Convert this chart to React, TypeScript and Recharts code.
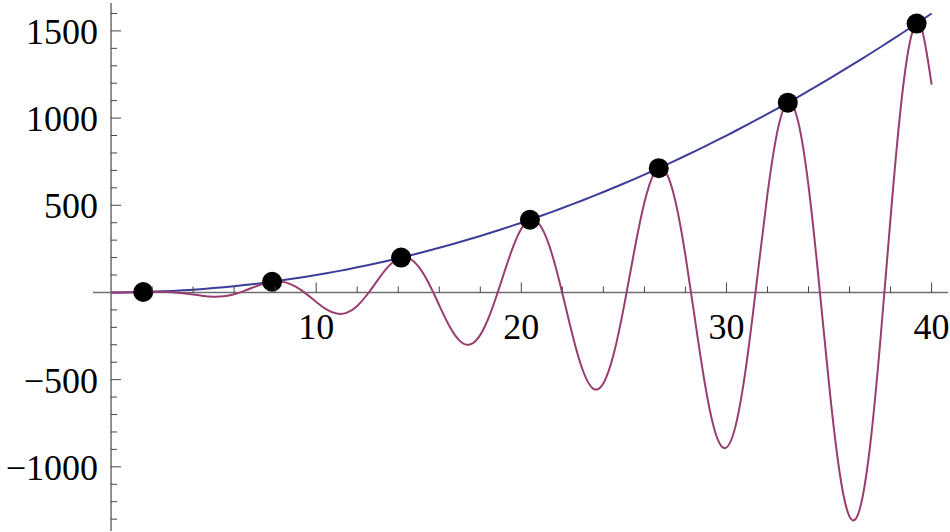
import { ComposedChart, Line, Scatter, XAxis, YAxis, ReferenceLine } from 'recharts';

// sample positions along x
const xValues = [
  0, 0.5, 1, 1.5, 2, 2.5, 3, 3.5, 4, 4.5, 5, 5.5, 6, 6.5, 7, 7.5, 8, 8.5, 9, 9.5,
  10, 10.5, 11, 11.5, 12, 12.5, 13, 13.5, 14, 14.5, 15, 15.5, 16, 16.5, 17, 17.5, 18, 18.5, 19, 19.5,
  20, 20.5, 21, 21.5, 22, 22.5, 23, 23.5, 24, 24.5, 25, 25.5, 26, 26.5, 27, 27.5, 28, 28.5, 29, 29.5,
  30, 30.5, 31, 31.5, 32, 32.5, 33, 33.5, 34, 34.5, 35, 35.5, 36, 36.5, 37, 37.5, 38, 38.5, 39, 39.5,
  40,
];

// blue envelope curve
const envelope = [
  0, 0.25, 1, 2.25, 4, 6.25, 9, 12.25, 16, 20.25, 25, 30.25, 36, 42.25, 49, 56.25, 64, 72.25, 81, 90.25,
  100, 110.25, 121, 132.25, 144, 156.25, 169, 182.25, 196, 210.25, 225, 240.25, 256, 272.25, 289, 306.25, 324, 342.25, 361, 380.25,
  400, 420.25, 441, 462.25, 484, 506.25, 529, 552.25, 576, 600.25, 625, 650.25, 676, 702.25, 729, 756.25, 784, 812.25, 841, 870.25,
  900, 930.25, 961, 992.25, 1024, 1056.25, 1089, 1122.25, 1156, 1190.25, 1225, 1260.25, 1296, 1332.25, 1369, 1406.25, 1444, 1482.25, 1521, 1560.25,
  1600,
];

// purple oscillating curve
const wave = [
  0, 0.12, 0.84, 2.24, 3.64, 3.74, 1.27, -4.3, -12.11, -19.79, -23.97, -21.34, -10.06, 9.09, 32.19, 52.76, 63.32, 57.69, 33.38, -6.78,
  -54.4, -96.99, -121, -115.78, -77.27, -10.38, 71.0, 146.5, 194.2, 196.6, 146.3, 49.6, -73.7, -193.8, -277.8, -298.8, -243.3, -117.2, 54.1, 230.2,
  365.2, 418.9, 369.0, 218.0, -4.3, -246.6, -447.6, -551.2, -521.6, -355.0, -82.8, 233.5, 515.5, 687.8, 697.2, 528.8, 212.4, -181.8, -558.2, -818.9,
  -889.2, -737.8, -388.2, 83.3, 564.7, 933.6, 1088.9, 977.7, 611.5, 68.4, -524.5, -1019.7, -1285.4, -1241.3, -881.1, -278.2, 428.0, 1064.3, 1466.0, 1519.1,
  1192.2,
];

// touching points
const peakX = [1.57, 7.85, 14.14, 20.42, 26.7, 32.99, 39.27];
const peakY = [2.5, 61.7, 199.9, 416.9, 713.0, 1088.3, 1542.1];

const xTicks = [2, 4, 6, 8, 10, 12, 14, 16, 18, 20, 22, 24, 26, 28, 30, 32, 34, 36, 38, 40];
const yTicks = [
  -1300, -1200, -1100, -1000, -900, -800, -700, -600, -500, -400, -300, -200, -100,
  100, 200, 300, 400, 500, 600, 700, 800, 900, 1000, 1100, 1200, 1300, 1400, 1500, 1600,
];

const curveData = xValues.map((x, i) => ({ x, envelope: envelope[i], wave: wave[i] }));
const peakData = peakX.map((x, i) => ({ x, y: peakY[i] }));

const W = 950;
const H = 532;
const AXIS_SIZE = 1;
const margin = { top: 3, right: 2, bottom: 0, left: 92 };
const xDomain = [-0.88, 40.8];
const yDomain = [-1368, 1660];

// plot box, then where the axes cross (data origin) in pixels
const plotLeft = margin.left + AXIS_SIZE;
const plotW = W - plotLeft - margin.right;
const plotH = H - margin.top - margin.bottom - AXIS_SIZE;
const zeroY = margin.top + (yDomain[1] / (yDomain[1] - yDomain[0])) * plotH;
const zeroX = plotLeft + (-xDomain[0] / (xDomain[1] - xDomain[0])) * plotW;

const font = '"Liberation Serif", "Times New Roman", serif';

const fmt = (v: number) => (v < 0 ? '\u2212' + Math.abs(v) : String(v));

const XTick = (props: any) => {
  const { x, payload } = props;
  const major = payload.value % 10 === 0;
  return (
    <g>
      <line x1={x} x2={x} y1={zeroY} y2={zeroY - (major ? 10 : 6)} stroke="#444" strokeWidth={1} />
      {major && (
        <text x={x} y={zeroY + 47} textAnchor="middle" fontSize={36} fontFamily={font} fill="#000">
          {fmt(payload.value)}
        </text>
      )}
    </g>
  );
};

const YTick = (props: any) => {
  const { y, payload } = props;
  const major = payload.value % 500 === 0;
  return (
    <g>
      <line x1={zeroX} x2={zeroX + (major ? 10 : 6)} y1={y} y2={y} stroke="#444" strokeWidth={1} />
      {major && (
        <text x={98} y={y + 13} textAnchor="end" fontSize={36} fontFamily={font} fill="#000">
          {fmt(payload.value)}
        </text>
      )}
    </g>
  );
};

export default function App() {
  return (
    <div style={{ position: 'absolute', left: 0, top: 0, width: W, height: H, background: '#fff' }}>
      <ComposedChart width={W} height={H} data={curveData} margin={margin}>
        <XAxis
          dataKey="x"
          type="number"
          domain={xDomain}
          ticks={xTicks}
          interval={0}
          height={AXIS_SIZE}
          axisLine={false}
          tickLine={false}
          tick={(p: any) => <XTick {...p} />}
          allowDataOverflow
        />
        <YAxis
          type="number"
          domain={yDomain}
          ticks={yTicks}
          interval={0}
          width={AXIS_SIZE}
          axisLine={false}
          tickLine={false}
          tick={(p: any) => <YTick {...p} />}
          allowDataOverflow
        />
        <ReferenceLine x={0} stroke="#6e6e6e" strokeWidth={1.5} />
        <ReferenceLine y={0} stroke="#6e6e6e" strokeWidth={1.5} />
        <Line
          dataKey="envelope"
          type="natural"
          stroke="#3d3d99"
          strokeWidth={2}
          dot={false}
          isAnimationActive={false}
        />
        <Line
          dataKey="wave"
          type="natural"
          stroke="#993d71"
          strokeWidth={2}
          dot={false}
          isAnimationActive={false}
        />
        <Scatter
          data={peakData}
          dataKey="y"
          fill="#000"
          shape={(p: any) => <circle cx={p.cx} cy={p.cy} r={10} fill="#000" />}
          isAnimationActive={false}
        />
      </ComposedChart>
    </div>
  );
}
